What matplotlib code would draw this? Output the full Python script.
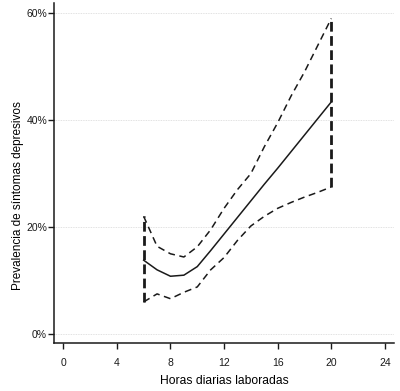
import matplotlib
matplotlib.use('Agg')
import matplotlib.pyplot as plt
from matplotlib.ticker import FuncFormatter

# -------------------------------------------------------------
# datos
# -------------------------------------------------------------
horas = [6, 7, 8, 9, 10, 11, 12, 13, 14, 15, 16, 17, 18, 19, 20]
prev = [13.8, 12.0, 10.8, 11.0, 12.6, 15.6, 18.7, 21.8, 24.9, 28.0, 31.0, 34.1, 37.2, 40.3, 43.4]
ic_sup = [22.0, 16.4, 15.0, 14.4, 16.3, 19.5, 23.5, 27.0, 30.0, 35.0, 39.5, 44.5, 49.0, 54.0, 59.0]
ic_inf = [6.0, 7.5, 6.6, 7.8, 8.8, 12.0, 14.3, 17.5, 20.2, 22.0, 23.5, 24.6, 25.6, 26.5, 27.5]

xticks = [0, 4, 8, 12, 16, 20, 24]
yticks = [0, 20, 40, 60]

plt.rcParams['font.family'] = ['Liberation Sans', 'DejaVu Sans']

fig = plt.figure(figsize=(4.0, 3.91), dpi=100)
ax = fig.add_axes([0.135, 0.1228, 0.85, 0.8696])

col = '#1a1a1a'
ax.plot(horas, prev, color=col, lw=1.1, zorder=3)
ax.plot(horas, ic_sup, color=col, lw=1.1, dashes=(4.5, 3), zorder=3)
ax.plot(horas, ic_inf, color=col, lw=1.1, dashes=(4.5, 3), zorder=3)

# lineas verticales en los extremos del intervalo
ax.vlines([horas[0], horas[-1]], [ic_inf[0], ic_inf[-1]], [ic_sup[0], ic_sup[-1]],
          colors=col, lw=2.0, linestyles=(0, (3.5, 1.6)), zorder=3)

ax.set_xlim(-0.69, 24.68)
ax.set_ylim(-1.68, 61.9)
ax.set_xticks(xticks)
ax.set_yticks(yticks)
ax.yaxis.set_major_formatter(FuncFormatter(lambda v, p: f'{v:.0f}%'))

ax.grid(axis='y', color='#d8d8d8', lw=0.6, linestyle=(0, (1, 1)))
ax.set_axisbelow(True)

for s in ['top', 'right']:
    ax.spines[s].set_visible(False)
for s in ['left', 'bottom']:
    ax.spines[s].set_linewidth(1.1)
    ax.spines[s].set_color(col)

ax.tick_params(axis='x', direction='out', length=4, width=1.0, pad=6.5, labelsize=7.5, colors=col)
ax.tick_params(axis='y', direction='out', length=4.5, width=1.0, pad=0.5, labelsize=7.5, colors=col)

ax.set_xlabel('Horas diarias laboradas', fontsize=8.7, labelpad=5)
ax.set_ylabel('Prevalencia de síntomas depresivos', fontsize=8.5)
ax.yaxis.set_label_coords(-0.088, 0.435)

plt.savefig('out.png', dpi=100)
plt.close()
